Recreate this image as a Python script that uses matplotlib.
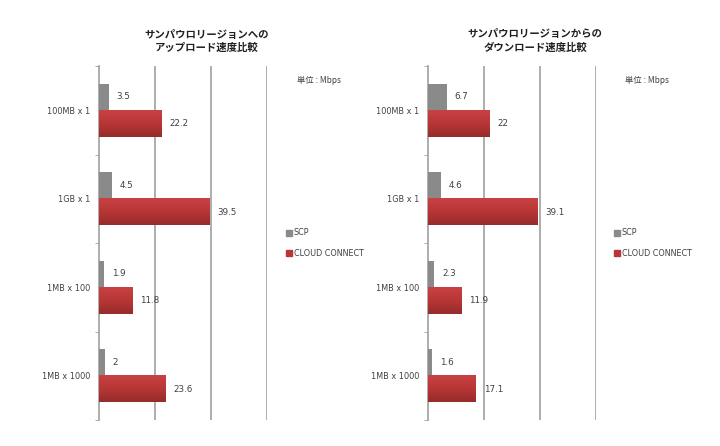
import numpy as np
import matplotlib
matplotlib.use("Agg")
import matplotlib.pyplot as plt
from matplotlib.colors import LinearSegmentedColormap

plt.rcParams['font.family'] = ['DejaVu Sans', 'Noto Sans CJK JP']

# ── DATA ─────────────────────────────────────────────────────────────────────
categories = ["100MB x 1", "1GB x 1", "1MB x 100", "1MB x 1000"]
series_names = ["SCP", "CLOUD CONNECT"]
upload_scp = [3.5, 4.5, 1.9, 2]
upload_cc = [22.2, 39.5, 11.8, 23.6]
download_scp = [6.7, 4.6, 2.3, 1.6]
download_cc = [22, 39.1, 11.9, 17.1]
titles = ["サンパウロリージョンへの\nアップロード速度比較",
          "サンパウロリージョンからの\nダウンロード速度比較"]
unit_label = "単位 : Mbps"

GRAY = "#8a8a8a"
RED = "#b83636"
red_grad = LinearSegmentedColormap.from_list("redgrad", ["#c94242", "#b83636", "#962b2b"])
TEXT = "#404040"
LINE = "#a0a0a0"

fig = plt.figure(figsize=(7.2, 4.46), dpi=100)
axes_pos = [[99 / 720, 26 / 446, 168 / 720, 354 / 446],
            [428 / 720, 26 / 446, 168 / 720, 354 / 446]]
title_x = [207 / 720, 535 / 720]
legend_x = [286 / 720, 614 / 720]

h = 0.3
for k, (scp, cc) in enumerate([(upload_scp, upload_cc), (download_scp, download_cc)]):
    ax = fig.add_axes(axes_pos[k])
    y = np.arange(len(categories))
    ax.barh(y - h / 2, scp, height=h, color=GRAY, zorder=3)
    # red bars with vertical gradient
    grad = np.linspace(0, 1, 64).reshape(-1, 1)
    for yi, v in zip(y, cc):
        ax.imshow(grad, cmap=red_grad, aspect="auto", zorder=3,
                  extent=(0, v, yi + h, yi), interpolation="bilinear")
    for yi, v in zip(y, scp):
        ax.text(v + 2.8, yi - h / 2, f"{v:g}", va="center", ha="left",
                fontsize=6.3, color=TEXT)
    for yi, v in zip(y, cc):
        ax.text(v + 2.8, yi + h / 2, f"{v:g}", va="center", ha="left",
                fontsize=6.3, color=TEXT)

    ax.set_xlim(0, 60)
    ax.set_ylim(len(categories) - 0.5, -0.5)
    ax.set_xticks([20, 40, 60])
    ax.xaxis.grid(True, color=LINE, linewidth=1.2, zorder=0)
    ax.tick_params(axis="x", length=0, labelbottom=False)
    ax.set_yticks(y)
    ax.set_yticklabels(categories, fontsize=5.9, color=TEXT)
    ax.set_yticks(np.arange(len(categories) + 1) - 0.5, minor=True)
    ax.tick_params(axis="y", which="major", length=0, pad=6)
    ax.tick_params(axis="y", which="minor", length=3, color=LINE)
    for s in ["top", "right", "bottom"]:
        ax.spines[s].set_visible(False)
    ax.spines["left"].set_color(LINE)
    ax.spines["left"].set_linewidth(1.2)

    fig.text(title_x[k], 1 - 41 / 446, titles[k], ha="center", va="center",
             fontsize=7.5, fontweight="bold", color="#202020",
             family=["Noto Sans CJK JP", "DejaVu Sans"], linespacing=1.35)
    fig.text(legend_x[k] + 11 / 720, 1 - 80 / 446, unit_label, ha="left",
             va="center", fontsize=6, color=TEXT,
             family=["Noto Sans CJK JP", "DejaVu Sans"])
    for j, (name, col) in enumerate(zip(series_names, [GRAY, RED])):
        yy = 1 - (233 + 20 * j) / 446
        fig.patches.append(plt.Rectangle((legend_x[k], yy - 3 / 446), 6 / 720, 6 / 446,
                                         transform=fig.transFigure, color=col, figure=fig))
        fig.text(legend_x[k] + 8 / 720, yy, name, ha="left", va="center",
                 fontsize=5.8, color=TEXT)

fig.savefig("out.png", dpi=100, facecolor="white")
